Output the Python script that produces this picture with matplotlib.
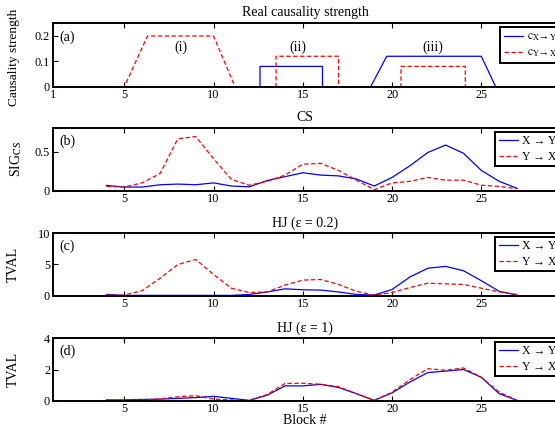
import matplotlib
matplotlib.use('Agg')
import matplotlib.pyplot as plt
import numpy as np

plt.rcParams['font.family'] = ['Liberation Serif', 'DejaVu Serif']
plt.rcParams['mathtext.fontset'] = 'stix'

# panel (a): real causality strength
a_x_xy = [1, 12.6, 12.6, 16.1, 16.1, 18.8, 19.7, 25.0, 25.8, 30]
a_y_xy = [0, 0, 0.08, 0.08, 0, 0, 0.12, 0.12, 0, 0]
a_x_yx = [1, 5.0, 6.3, 10.0, 11.2, 13.5, 13.5, 17.0, 17.0, 20.5, 20.5, 24.1, 24.1, 30]
a_y_yx = [0, 0, 0.2, 0.2, 0, 0, 0.12, 0.12, 0, 0, 0.08, 0.08, 0, 0]

blocks = np.arange(4, 28)

# panel (b): CS
cs_xy = [0.068, 0.047, 0.047, 0.076, 0.085, 0.076, 0.10, 0.06, 0.05, 0.13, 0.18, 0.23,
         0.20, 0.19, 0.15, 0.06, 0.17, 0.32, 0.49, 0.585, 0.48, 0.26, 0.12, 0.03]
cs_yx = [0.055, 0.047, 0.10, 0.22, 0.665, 0.695, 0.41, 0.145, 0.07, 0.12, 0.20, 0.34,
         0.35, 0.26, 0.135, 0.013, 0.10, 0.12, 0.17, 0.135, 0.135, 0.07, 0.055, 0.025]

# panel (c): HJ eps=0.2
hj02_xy = [0.2, 0.05, 0.05, 0.05, 0.05, 0.05, 0.05, 0.05, 0.2, 0.6, 1.1, 0.95,
           0.9, 0.6, 0.2, 0.1, 1.0, 3.0, 4.4, 4.7, 4.0, 2.4, 0.7, 0.1]
hj02_yx = [0.1, 0.1, 0.8, 2.8, 5.0, 5.8, 3.4, 1.2, 0.5, 0.6, 1.7, 2.5,
           2.6, 1.8, 0.7, 0.1, 0.5, 1.3, 2.0, 1.9, 1.8, 1.2, 0.6, 0.2]

# panel (d): HJ eps=1
hj1_xy = [0.05, 0.05, 0.08, 0.1, 0.15, 0.2, 0.28, 0.15, 0.02, 0.35, 0.95, 0.95,
          1.05, 0.85, 0.45, 0.02, 0.5, 1.2, 1.8, 1.9, 2.0, 1.5, 0.45, 0.02]
hj1_yx = [0.02, 0.02, 0.05, 0.12, 0.25, 0.32, 0.1, 0.05, 0.02, 0.4, 1.1, 1.12,
          1.05, 0.9, 0.45, 0.02, 0.55, 1.35, 2.05, 1.95, 2.1, 1.5, 0.55, 0.02]

W, H = 555, 432
fig = plt.figure(figsize=(W / 100, H / 100), dpi=100)

left_px = 52.9
right_px = 570.6
title_x = (305 - left_px) / (right_px - left_px)
FS = 10


def make_axes(top_px, bottom_px):
    return fig.add_axes([left_px / W, 1 - bottom_px / H,
                         (right_px - left_px) / W, (bottom_px - top_px) / H])


def style(ax, ylim, yticks, yticklabels, xticks):
    ax.set_xlim(1, 30)
    ax.set_ylim(*ylim)
    ax.set_yticks(yticks)
    ax.set_yticklabels(yticklabels)
    ax.set_xticks(xticks)
    ax.set_xticklabels([str(t) for t in xticks])
    ax.tick_params(direction='in', top=True, right=True, length=3.5, width=0.8,
                   labelsize=8.8, pad=2)
    for s in ax.spines.values():
        s.set_linewidth(1.4)


def legend(ax, labels, x_px, top_px, ax_top, ax_bot):
    ax_x = (x_px - left_px) / (right_px - left_px)
    ax_y = (ax_bot - top_px) / (ax_bot - ax_top)
    leg = ax.legend(labels, loc='upper left', bbox_to_anchor=(ax_x, ax_y),
                    borderaxespad=0, fontsize=8.5, handlelength=1.65,
                    handletextpad=0.3, labelspacing=0.3, borderpad=0.3,
                    fancybox=False, framealpha=1)
    leg.get_frame().set_edgecolor('black')
    leg.get_frame().set_linewidth(1.4)


dash = (3.5, 2)

# (a)
ax = make_axes(23.3, 86.7)
ax.plot(a_x_xy, a_y_xy, color='blue', lw=0.9)
ax.plot(a_x_yx, a_y_yx, color='red', lw=0.9, ls='--', dashes=dash)
style(ax, (0, 0.25), [0, 0.1, 0.2], ['0', '0.1', '0.2'], [1, 5, 10, 15, 20, 25])
ax.set_title('Real causality strength', fontsize=FS, pad=5, x=title_x)
ax.set_ylabel('Causality strength', fontsize=9.6)
ax.yaxis.set_label_coords((20 - left_px) / (right_px - left_px), 0.47)
ax.text(0.012, 0.78, '(a)', transform=ax.transAxes, fontsize=FS, va='center')
ax.text(8.2, 0.155, '(i)', fontsize=FS, ha='center', va='center')
ax.text(14.7, 0.155, '(ii)', fontsize=FS, ha='center', va='center')
ax.text(22.3, 0.155, '(iii)', fontsize=FS, ha='center', va='center')
legend(ax, [r'$\mathrm{c}_{\mathrm{X}\rightarrow\,\mathrm{Y}}$',
            r'$\mathrm{c}_{\mathrm{Y}\rightarrow\,\mathrm{X}}$'], 500, 27.3, 23.3, 86.7)

# (b)
ax = make_axes(128.3, 190.7)
ax.plot(blocks, cs_xy, color='blue', lw=0.9)
ax.plot(blocks, cs_yx, color='red', lw=0.9, ls='--', dashes=dash)
style(ax, (0, 0.8), [0, 0.5], ['0', '0.5'], [5, 10, 15, 20, 25])
ax.set_title('CS', fontsize=FS, pad=5, x=title_x)
ax.set_ylabel(r'SIG$_{\mathrm{CS}}$', fontsize=FS)
ax.yaxis.set_label_coords((24 - left_px) / (right_px - left_px), 0.5)
ax.text(0.013, 0.8, '(b)', transform=ax.transAxes, fontsize=FS, va='center')
legend(ax, ['X \u2192 Y', 'Y \u2192 X'], 495, 131.7, 128.3, 190.7)

# (c)
ax = make_axes(233.3, 295.7)
ax.plot(blocks, hj02_xy, color='blue', lw=0.9)
ax.plot(blocks, hj02_yx, color='red', lw=0.9, ls='--', dashes=dash)
style(ax, (0, 10), [0, 5, 10], ['0', '5', '10'], [5, 10, 15, 20, 25])
ax.set_title('HJ (\u03b5 = 0.2)', fontsize=FS, pad=5, x=title_x)
ax.set_ylabel('TVAL', fontsize=FS)
ax.yaxis.set_label_coords((20 - left_px) / (right_px - left_px), 0.5)
ax.text(0.013, 0.8, '(c)', transform=ax.transAxes, fontsize=FS, va='center')
legend(ax, ['X \u2192 Y', 'Y \u2192 X'], 495, 236.7, 233.3, 295.7)

# (d)
ax = make_axes(338.3, 400.7)
ax.plot(blocks, hj1_xy, color='blue', lw=0.9)
ax.plot(blocks, hj1_yx, color='red', lw=0.9, ls='--', dashes=dash)
style(ax, (0, 4), [0, 2, 4], ['0', '2', '4'], [5, 10, 15, 20, 25])
ax.set_title('HJ (\u03b5 = 1)', fontsize=FS, pad=5, x=title_x)
ax.set_ylabel('TVAL', fontsize=FS)
ax.yaxis.set_label_coords((20 - left_px) / (right_px - left_px), 0.5)
ax.set_xlabel('Block #', fontsize=FS)
ax.xaxis.set_label_coords(title_x, -0.22)
ax.text(0.013, 0.8, '(d)', transform=ax.transAxes, fontsize=FS, va='center')
legend(ax, ['X \u2192 Y', 'Y \u2192 X'], 495, 341.7, 338.3, 400.7)

fig.savefig('out.png', dpi=100)
